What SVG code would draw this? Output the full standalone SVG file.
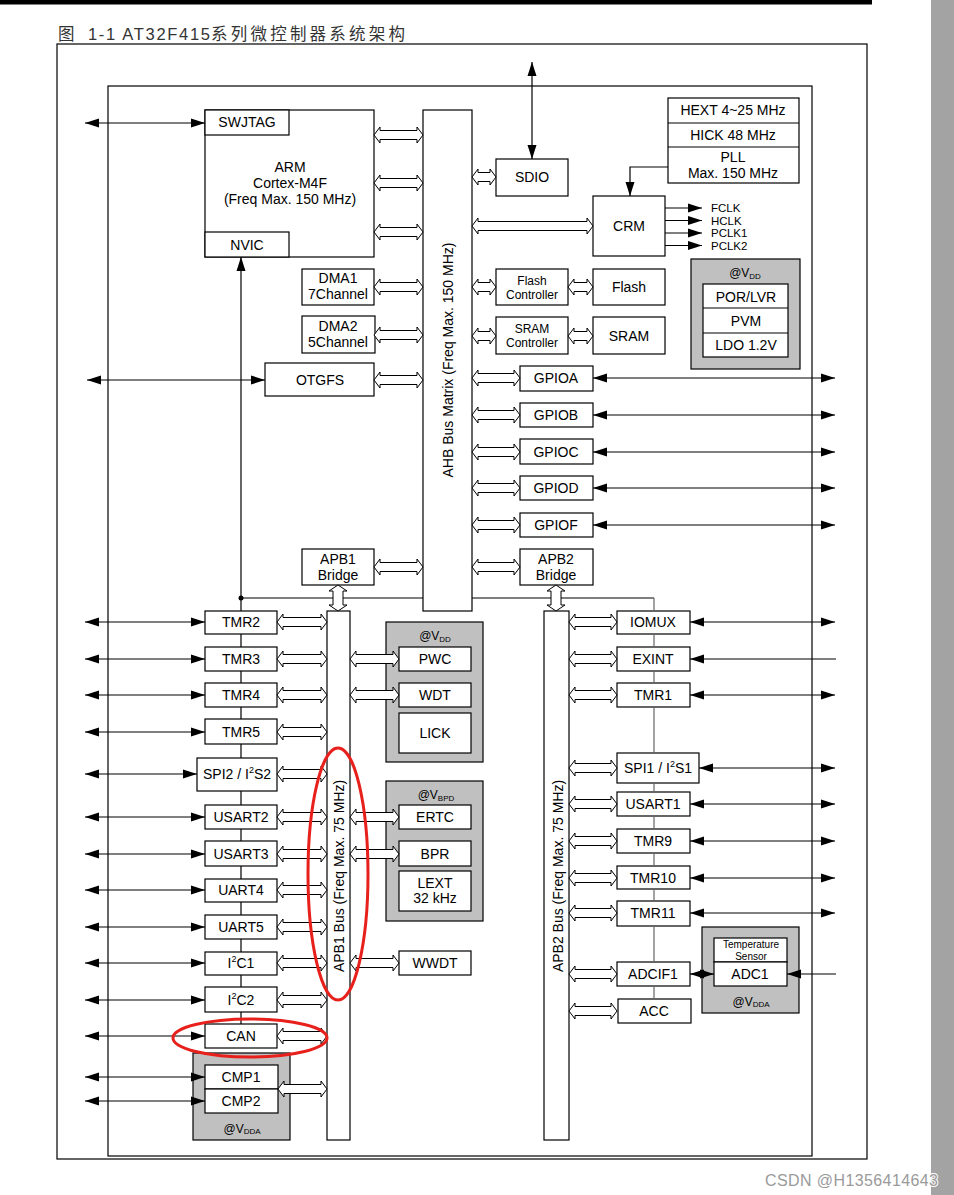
<svg xmlns="http://www.w3.org/2000/svg" width="954" height="1195" viewBox="0 0 954 1195">
<style>
text{font-family:"Liberation Sans",Arial,"Noto Sans CJK SC",sans-serif;font-size:14px;fill:#000;text-anchor:middle}
.b{fill:#fff;stroke:#000;stroke-width:1.2}
.g{fill:#c0c0c0;stroke:#000;stroke-width:1.2}
.ln{fill:none;stroke:#000;stroke-width:1.2}
.lg{fill:none;stroke:#666;stroke-width:1.2}
.ha{fill:#fff;stroke:#000;stroke-width:1}
.ar{fill:none;stroke:#000;stroke-width:1.2;marker-end:url(#a)}
.ar2{fill:none;stroke:#000;stroke-width:1.2;marker-start:url(#a);marker-end:url(#a)}
.sm{font-size:12px}
.xs{font-size:10px}
.vs{font-size:12px}
.sub{font-size:8px}
.clk{font-size:11.5px;text-anchor:start}
.red{fill:none;stroke:#e8201c;stroke-width:3}
</style>
<defs>
<marker id="a" viewBox="0 0 14 10" refX="14" refY="5" markerWidth="14" markerHeight="10" markerUnits="userSpaceOnUse" orient="auto-start-reverse"><path d="M0,0.5 L14,5 L0,9.5 Z" fill="#000"/></marker>
<path id="h49" class="ha" d="M0,0 L6,-8 L6,-4.5 L43,-4.5 L43,-8 L49,0 L43,8 L43,4.5 L6,4.5 L6,8 Z"/>
<path id="h48" class="ha" d="M0,0 L6,-8 L6,-4.5 L42,-4.5 L42,-8 L48,0 L42,8 L42,4.5 L6,4.5 L6,8 Z"/>
<path id="h50" class="ha" d="M0,0 L6,-8 L6,-4.5 L44,-4.5 L44,-8 L50,0 L44,8 L44,4.5 L6,4.5 L6,8 Z"/>
<path id="h24" class="ha" d="M0,0 L6,-8 L6,-4.5 L18,-4.5 L18,-8 L24,0 L18,8 L18,4.5 L6,4.5 L6,8 Z"/>
<path id="h25" class="ha" d="M0,0 L6,-8 L6,-4.5 L19,-4.5 L19,-8 L25,0 L19,8 L19,4.5 L6,4.5 L6,8 Z"/>
<path id="h121" class="ha" d="M0,0 L6,-8 L6,-4.5 L115,-4.5 L115,-8 L121,0 L115,8 L115,4.5 L6,4.5 L6,8 Z"/>
<path id="v26" class="ha" d="M0,0 L-9,6 L-5,6 L-5,20 L-9,20 L0,26 L9,20 L5,20 L5,6 L9,6 Z"/>
</defs>

<!-- page decorations -->
<rect x="931" y="0" width="23" height="1195" fill="#a3a3a3"/>
<rect x="0" y="0" width="872" height="4.5" fill="#000"/>
<text x="58" y="40" style="font-size:16.5px;text-anchor:start;fill:#333">图</text>
<text x="88" y="40" style="font-size:16.5px;text-anchor:start;fill:#333" textLength="122" lengthAdjust="spacing">1-1 AT32F415</text>
<text x="211" y="40" style="font-size:16.5px;text-anchor:start;fill:#333" textLength="194" lengthAdjust="spacing">系列微控制器系统架构</text>
<rect x="57" y="44" width="810" height="1115" class="ln"/>
<rect x="108" y="86" width="704" height="1070" class="ln"/>

<!-- core -->
<g id="arm"><rect class="b" x="205" y="110" width="169" height="147"/>
<text x="290" y="172">ARM</text><text x="290" y="188">Cortex-M4F</text><text x="290" y="204">(Freq Max. 150 MHz)</text></g>
<g id="swjtag"><rect class="b" x="205" y="110" width="84" height="25"/><text x="247" y="127">SWJTAG</text></g>
<g id="nvic"><rect class="b" x="205" y="232" width="84" height="25"/><text x="247" y="250">NVIC</text></g>
<g id="ahb"><rect class="b" x="423" y="110" width="49" height="501"/>
<text transform="translate(453,360) rotate(-90)">AHB Bus Matrix (Freq Max. 150 MHz)</text></g>
<g id="sdio"><rect class="b" x="496" y="159" width="72" height="37"/><text x="532" y="182">SDIO</text></g>
<g id="clocks"><rect class="b" x="668" y="98" width="131" height="85"/>
<line class="ln" x1="668" y1="123" x2="799" y2="123"/><line class="ln" x1="668" y1="147" x2="799" y2="147"/>
<text x="733" y="115">HEXT 4~25 MHz</text><text x="733" y="140">HICK 48 MHz</text><text x="733" y="162">PLL</text><text x="733" y="178">Max. 150 MHz</text></g>
<g id="crm"><rect class="b" x="593" y="196" width="72" height="60"/><text x="629" y="231">CRM</text>
<text class="clk" x="711" y="212">FCLK</text>
<text class="clk" x="711" y="224.5">HCLK</text>
<text class="clk" x="711" y="237">PCLK1</text>
<text class="clk" x="711" y="249.5">PCLK2</text></g>
<g id="flashctrl"><rect class="b" x="496" y="269" width="72" height="36"/><text class="sm" x="532" y="285">Flash</text><text class="sm" x="532" y="299">Controller</text></g>
<g id="flash"><rect class="b" x="593" y="269" width="72" height="36"/><text x="629" y="292">Flash</text></g>
<g id="sramctrl"><rect class="b" x="496" y="317" width="72" height="37"/><text class="sm" x="532" y="333">SRAM</text><text class="sm" x="532" y="347">Controller</text></g>
<g id="sram"><rect class="b" x="593" y="317" width="72" height="37"/><text x="629" y="341">SRAM</text></g>
<g id="power"><rect class="g" x="691" y="259" width="109" height="110"/>
<text class="vs" x="745" y="277">@V<tspan class="sub" dy="2">DD</tspan></text>
<rect class="b" x="703" y="284" width="85" height="73"/>
<line class="ln" x1="703" y1="308" x2="788" y2="308"/><line class="ln" x1="703" y1="333" x2="788" y2="333"/>
<text x="746" y="302">POR/LVR</text><text x="746" y="326">PVM</text><text x="746" y="350">LDO 1.2V</text></g>
<g id="dma1"><rect class="b" x="302" y="269" width="72" height="36"/><text x="338" y="283">DMA1</text><text x="338" y="299">7Channel</text></g>
<g id="dma2"><rect class="b" x="302" y="316" width="73" height="37"/><text x="338" y="331">DMA2</text><text x="338" y="347">5Channel</text></g>
<g id="otgfs"><rect class="b" x="265" y="363" width="109" height="33"/><text x="320" y="385">OTGFS</text></g>
<g id="apb1bridge"><rect class="b" x="302" y="549" width="72" height="36"/><text x="338" y="564">APB1</text><text x="338" y="580">Bridge</text></g>
<g id="gpioa"><rect class="b" x="520" y="366" width="73" height="25"/><text x="556" y="383">GPIOA</text></g>
<g id="gpiob"><rect class="b" x="520" y="403" width="73" height="24"/><text x="556" y="420">GPIOB</text></g>
<g id="gpioc"><rect class="b" x="520" y="439" width="73" height="25"/><text x="556" y="457">GPIOC</text></g>
<g id="gpiod"><rect class="b" x="520" y="476" width="73" height="24"/><text x="556" y="493">GPIOD</text></g>
<g id="gpiof"><rect class="b" x="520" y="513" width="73" height="24"/><text x="556" y="530">GPIOF</text></g>
<g id="apb2bridge"><rect class="b" x="520" y="549" width="73" height="36"/><text x="556" y="564">APB2</text><text x="556" y="580">Bridge</text></g>

<!-- APB1 -->
<g id="apb1bus"><rect class="b" x="327" y="611" width="23" height="529"/>
<text transform="translate(344,876) rotate(-90)">APB1 Bus (Freq Max. 75 MHz)</text></g>
<g id="tmr2"><rect class="b" x="205" y="611" width="72" height="23"/><text x="241" y="627">TMR2</text></g>
<g id="tmr3"><rect class="b" x="205" y="647" width="72" height="24"/><text x="241" y="664">TMR3</text></g>
<g id="tmr4"><rect class="b" x="205" y="683" width="72" height="24"/><text x="241" y="700">TMR4</text></g>
<g id="tmr5"><rect class="b" x="205" y="719" width="72" height="25"/><text x="241" y="737">TMR5</text></g>
<g id="spi2"><rect class="b" x="197" y="758" width="80" height="33"/><text x="237" y="779">SPI2 / I<tspan font-size="9" dy="-6">2</tspan><tspan dy="6">S2</tspan></text></g>
<g id="usart2"><rect class="b" x="205" y="805" width="72" height="24"/><text x="241" y="822">USART2</text></g>
<g id="usart3"><rect class="b" x="205" y="841" width="72" height="25"/><text x="241" y="859">USART3</text></g>
<g id="uart4"><rect class="b" x="205" y="879" width="72" height="23"/><text x="241" y="895">UART4</text></g>
<g id="uart5"><rect class="b" x="205" y="915" width="72" height="24"/><text x="241" y="932">UART5</text></g>
<g id="i2c1"><rect class="b" x="205" y="952" width="72" height="23"/><text x="241" y="968">I<tspan font-size="9" dy="-6">2</tspan><tspan dy="6">C1</tspan></text></g>
<g id="i2c2"><rect class="b" x="205" y="987" width="72" height="25"/><text x="241" y="1005">I<tspan font-size="9" dy="-6">2</tspan><tspan dy="6">C2</tspan></text></g>
<g id="can"><rect class="b" x="205" y="1024" width="72" height="24"/><text x="241" y="1041">CAN</text></g>
<g id="cmp"><rect class="g" x="193" y="1053" width="97" height="87"/>
<rect class="b" x="205" y="1065" width="73" height="24"/><text x="241" y="1082">CMP1</text>
<rect class="b" x="205" y="1089" width="73" height="24"/><text x="241" y="1106">CMP2</text>
<text class="vs" x="242" y="1133">@V<tspan class="sub" dy="1">DDA</tspan></text></g>
<g id="vddgroup"><rect class="g" x="386" y="622" width="97" height="140"/>
<text class="vs" x="435" y="640">@V<tspan class="sub" dy="2">DD</tspan></text>
<rect class="b" x="399" y="647" width="72" height="24"/><text x="435" y="664">PWC</text>
<rect class="b" x="399" y="683" width="72" height="24"/><text x="435" y="700">WDT</text>
<rect class="b" x="399" y="713" width="72" height="40"/><text x="435" y="738">LICK</text></g>
<g id="vbpdgroup"><rect class="g" x="386" y="781" width="97" height="140"/>
<text class="vs" x="436" y="799">@V<tspan class="sub" dy="2">BPD</tspan></text>
<rect class="b" x="399" y="805" width="72" height="24"/><text x="435" y="822">ERTC</text>
<rect class="b" x="399" y="841" width="72" height="25"/><text x="435" y="859">BPR</text>
<rect class="b" x="399" y="871" width="72" height="40"/><text x="435" y="888">LEXT</text><text x="435" y="903">32 kHz</text></g>
<g id="wwdt"><rect class="b" x="399" y="951" width="72" height="24"/><text x="435" y="968">WWDT</text></g>

<!-- APB2 -->
<g id="apb2bus"><rect class="b" x="544" y="611" width="25" height="529"/>
<text transform="translate(563,876) rotate(-90)">APB2 Bus (Freq Max. 75 MHz)</text></g>
<g id="iomux"><rect class="b" x="617" y="611" width="73" height="23"/><text x="653" y="627">IOMUX</text></g>
<g id="exint"><rect class="b" x="617" y="647" width="73" height="24"/><text x="653" y="664">EXINT</text></g>
<g id="tmr1"><rect class="b" x="617" y="683" width="73" height="24"/><text x="653" y="700">TMR1</text></g>
<g id="spi1"><rect class="b" x="617" y="753" width="82" height="30"/><text x="658" y="773">SPI1 / I<tspan font-size="9" dy="-6">2</tspan><tspan dy="6">S1</tspan></text></g>
<g id="usart1"><rect class="b" x="617" y="792" width="73" height="24"/><text x="653" y="809">USART1</text></g>
<g id="tmr9"><rect class="b" x="617" y="829" width="73" height="24"/><text x="653" y="846">TMR9</text></g>
<g id="tmr10"><rect class="b" x="617" y="866" width="73" height="23"/><text x="653" y="883">TMR10</text></g>
<g id="tmr11"><rect class="b" x="617" y="901" width="73" height="25"/><text x="653" y="918">TMR11</text></g>
<g id="adcif1"><rect class="b" x="617" y="962" width="73" height="24"/><text x="653" y="979">ADCIF1</text></g>
<g id="acc"><rect class="b" x="618" y="999" width="73" height="24"/><text x="654" y="1016">ACC</text></g>
<g id="adc"><rect class="g" x="702" y="927" width="97" height="86"/>
<rect class="b" x="714" y="938" width="73" height="24"/><text class="xs" x="751" y="948">Temperature</text><text class="xs" x="751" y="960">Sensor</text>
<rect class="b" x="714" y="962" width="73" height="24"/><text x="750" y="979">ADC1</text>
<text class="vs" x="751" y="1006">@V<tspan class="sub" dy="1">DDA</tspan></text></g>

<!-- connectors -->
<g id="connectors">
<line class="ln" x1="241" y1="598" x2="423" y2="598"/>
<line class="ln" x1="472" y1="598" x2="654" y2="598"/>
<path class="ln" d="M241,598V611M241,634V647M241,671V683M241,707V719M241,744V758M241,791V805M241,829V841M241,866V879M241,902V915M241,939V952M241,975V987M241,1012V1024"/>
<path class="lg" d="M654,598V611M654,634V647M654,671V683M654,707V753M654,783V792M654,816V829M654,853V866M654,889V901M654,926V962M654,986V999"/>
<circle cx="241" cy="598" r="2.5" fill="#000"/>
<line class="ar" x1="241" y1="598" x2="241" y2="257"/>
<line class="ar2" x1="85" y1="123" x2="205" y2="123"/>
<line class="ar2" x1="87" y1="380" x2="265" y2="380"/>
<line class="ar2" x1="532" y1="62" x2="532" y2="159"/>
<polyline class="ar" points="668,167 630,167 630,196"/>
<line class="ar" x1="665" y1="208" x2="702" y2="208"/>
<line class="ar" x1="665" y1="220.5" x2="702" y2="220.5"/>
<line class="ar" x1="665" y1="233" x2="702" y2="233"/>
<line class="ar" x1="665" y1="245.5" x2="702" y2="245.5"/>
<line class="ar2" x1="593" y1="378" x2="835" y2="378"/>
<line class="ar2" x1="593" y1="415" x2="835" y2="415"/>
<line class="ar2" x1="593" y1="452" x2="835" y2="452"/>
<line class="ar2" x1="593" y1="488" x2="835" y2="488"/>
<line class="ar2" x1="593" y1="525" x2="835" y2="525"/>
<line class="ar2" x1="85" y1="622" x2="205" y2="622"/>
<line class="ar2" x1="85" y1="659" x2="205" y2="659"/>
<line class="ar2" x1="85" y1="695" x2="205" y2="695"/>
<line class="ar2" x1="85" y1="732" x2="205" y2="732"/>
<line class="ar2" x1="85" y1="774" x2="197" y2="774"/>
<line class="ar2" x1="85" y1="817" x2="205" y2="817"/>
<line class="ar2" x1="85" y1="854" x2="205" y2="854"/>
<line class="ar2" x1="85" y1="890" x2="205" y2="890"/>
<line class="ar2" x1="85" y1="927" x2="205" y2="927"/>
<line class="ar2" x1="85" y1="963" x2="205" y2="963"/>
<line class="ar2" x1="85" y1="1000" x2="205" y2="1000"/>
<line class="ar2" x1="85" y1="1036" x2="205" y2="1036"/>
<line class="ar2" x1="85" y1="1077" x2="205" y2="1077"/>
<line class="ar2" x1="85" y1="1101" x2="205" y2="1101"/>
<line class="ar2" x1="690" y1="622" x2="835" y2="622"/>
<line class="ar" x1="836" y1="659" x2="690" y2="659"/>
<line class="ar2" x1="690" y1="695" x2="835" y2="695"/>
<line class="ar2" x1="699" y1="768" x2="835" y2="768"/>
<line class="ar2" x1="690" y1="804" x2="835" y2="804"/>
<line class="ar2" x1="690" y1="841" x2="835" y2="841"/>
<line class="ar2" x1="690" y1="878" x2="835" y2="878"/>
<line class="ar2" x1="690" y1="913" x2="835" y2="913"/>
<line class="ar2" x1="690" y1="974" x2="714" y2="974"/>
<line class="ar" x1="836" y1="974" x2="787" y2="974"/>
<!-- hollow bus arrows -->
<use href="#h49" x="374" y="135"/>
<use href="#h49" x="374" y="183"/>
<use href="#h49" x="374" y="232"/>
<use href="#h49" x="374" y="287"/>
<use href="#h49" x="374" y="335"/>
<use href="#h49" x="374" y="380"/>
<use href="#h49" x="374" y="567"/>
<use href="#h24" x="472" y="177"/>
<use href="#h24" x="472" y="287"/>
<use href="#h24" x="472" y="336"/>
<use href="#h25" x="568" y="287"/>
<use href="#h25" x="568" y="336"/>
<use href="#h121" x="472" y="226"/>
<use href="#h48" x="472" y="378"/>
<use href="#h48" x="472" y="415"/>
<use href="#h48" x="472" y="452"/>
<use href="#h48" x="472" y="488"/>
<use href="#h48" x="472" y="525"/>
<use href="#h48" x="472" y="567"/>
<use href="#v26" x="338" y="585"/>
<use href="#v26" x="556" y="585"/>
<use href="#h50" x="277" y="622"/>
<use href="#h50" x="277" y="659"/>
<use href="#h50" x="277" y="695"/>
<use href="#h50" x="277" y="732"/>
<use href="#h50" x="277" y="774"/>
<use href="#h50" x="277" y="817"/>
<use href="#h50" x="277" y="854"/>
<use href="#h50" x="277" y="890"/>
<use href="#h50" x="277" y="927"/>
<use href="#h50" x="277" y="963"/>
<use href="#h50" x="277" y="1000"/>
<use href="#h50" x="277" y="1036"/>
<use href="#h49" x="278" y="1089"/>
<use href="#h49" x="350" y="659"/>
<use href="#h49" x="350" y="695"/>
<use href="#h49" x="350" y="817"/>
<use href="#h49" x="350" y="854"/>
<use href="#h49" x="350" y="963"/>
<use href="#h48" x="569" y="622"/>
<use href="#h48" x="569" y="659"/>
<use href="#h48" x="569" y="695"/>
<use href="#h48" x="569" y="768"/>
<use href="#h48" x="569" y="804"/>
<use href="#h48" x="569" y="841"/>
<use href="#h48" x="569" y="878"/>
<use href="#h48" x="569" y="913"/>
<use href="#h48" x="569" y="974"/>
<use href="#h48" x="569" y="1011"/>
</g>

<!-- annotations -->
<ellipse class="red" cx="338" cy="874" rx="30" ry="126"/>
<ellipse class="red" cx="250" cy="1038" rx="77" ry="19"/>
<text x="765" y="1186" style="text-anchor:start;font-size:16px;fill:#9a9a9a;stroke:#fff;stroke-width:2;paint-order:stroke" textLength="173" lengthAdjust="spacing">CSDN @H1356414643</text>
</svg>
